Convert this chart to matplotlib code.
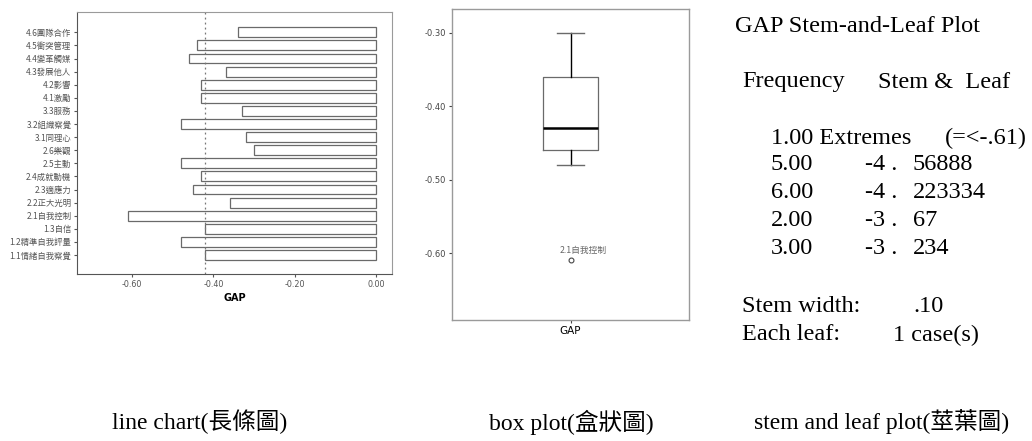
import matplotlib
matplotlib.use("Agg")
import numpy as np
import matplotlib.pyplot as plt
from matplotlib import cbook

W, H = 1032, 441

# items, bottom to top as drawn
labels = ['1.1情緒自我察覺', '1.2精準自我評量', '1.3自信', '2.1自我控制', '2.2正大光明',
          '2.3適應力', '2.4成就動機', '2.5主動', '2.6樂觀', '3.1同理心', '3.2組織察覺',
          '3.3服務', '4.1激勵', '4.2影響', '4.3發展他人', '4.4變革觸媒', '4.5衝突管理',
          '4.6團隊合作']
gap = [-0.42, -0.48, -0.42, -0.61, -0.36, -0.45, -0.43, -0.48, -0.30, -0.32, -0.48,
       -0.33, -0.43, -0.43, -0.37, -0.46, -0.44, -0.34]
gap_mean = -0.42
bar_ticks = [-0.60, -0.40, -0.20, 0.00]
box_ticks = [-0.30, -0.40, -0.50, -0.60]
outlier_label = '2.1自我控制'

# stem-and-leaf text
sl_title = 'GAP Stem-and-Leaf Plot'
sl_freq = ['5.00', '6.00', '2.00', '3.00']
sl_stem = ['-4 .', '-4 .', '-3 .', '-3 .']
sl_leaf = ['56888', '223334', '67', '234']
captions = ['line chart(長條圖)', 'box plot(盒狀圖)', 'stem and leaf plot(莖葉圖)']

cjk = ['Noto Sans CJK TC', 'DejaVu Sans']
serif = ['Liberation Serif', 'Noto Sans CJK TC']
frame_col = '#9a9a9a'


def px_axes(fig, left, top, right, bottom):
    return fig.add_axes([left / W, (H - bottom) / H, (right - left) / W, (bottom - top) / H])


fig = plt.figure(figsize=(W / 100, H / 100), dpi=100)

#%% bar chart
ax = px_axes(fig, 77, 12, 392, 274)
pos = list(range(len(gap)))
ax.barh(pos, gap, height=0.76, color='white', edgecolor='#6a6a6a', linewidth=0.9)
ax.axvline(gap_mean, color='#777777', linestyle=(0, (1.5, 2.5)), linewidth=0.9)
ax.set_xlim(-0.735, 0.039)
ax.set_ylim(-1.45, len(gap) - 1 + 1.55)
ax.set_yticks(pos)
ax.set_yticklabels(labels, family=cjk, fontsize=6, color='#555555')
ax.set_xticks(bar_ticks)
ax.set_xticklabels([f'{t:.2f}' for t in bar_ticks], fontsize=5.8, color='#555555')
ax.set_xlabel('GAP', fontsize=7, fontweight='bold', labelpad=3)
ax.tick_params(length=2.5, width=0.8, color='#555555', pad=1.5)
for s in ax.spines.values():
    s.set_color(frame_col)
ax.spines['left'].set_color('#555555')
ax.spines['bottom'].set_color('#555555')

#%% box plot (SPSS style hinges)
stats = cbook.boxplot_stats(np.array(gap), whis=1.5)[0]
stats['q1'] = np.percentile(gap, 25, method='nearest')
stats['q3'] = np.percentile(gap, 75, method='nearest')
bx = px_axes(fig, 452, 9, 689, 320)
bx.bxp([stats], positions=[1], widths=0.228,
       boxprops=dict(color='#6a6a6a', linewidth=0.9),
       medianprops=dict(color='black', linewidth=1.8),
       whiskerprops=dict(color='black', linewidth=1.0),
       capprops=dict(color='#6a6a6a', linewidth=1.0),
       flierprops=dict(marker='o', markersize=3.5, markerfacecolor='white',
                       markeredgecolor='#444444', markeredgewidth=0.8))
bx.text(0.955, min(gap) + 0.014, outlier_label, family=cjk, fontsize=6.3, color='#666666',
        ha='left', va='center')
bx.set_xlim(0.5, 1.5)
bx.set_ylim(-0.691, -0.2677)
bx.set_yticks(box_ticks)
bx.set_yticklabels([f'{t:.2f}' for t in box_ticks], fontsize=6, color='#444444')
bx.set_xticks([1])
bx.set_xticklabels(['GAP'], fontsize=7.5)
bx.tick_params(length=2.5, width=0.8, color='#444444', pad=1.5)
for s in bx.spines.values():
    s.set_color(frame_col)
    s.set_linewidth(1.0)

#%% stem-and-leaf text
def ftext(x, y, s, **kw):
    fig.text(x / W, 1 - y / H, s, family=serif, fontsize=17.5, va='center', ha='left', **kw)

ftext(735, 27, sl_title)
ftext(742, 82, 'Frequency')
ftext(878, 82, 'Stem &  Leaf')
ftext(771, 138, '1.00 Extremes')
ftext(945, 138, '(=<-.61)')
y = 165
for f, st, lf in zip(sl_freq, sl_stem, sl_leaf):
    ftext(771, y, f)
    ftext(865, y, st)
    ftext(913, y, lf)
    y += 28
ftext(742, 307, 'Stem width:')
ftext(913, 307, '.10')
ftext(742, 335, 'Each leaf:')
ftext(893, 335, '1 case(s)')

#%% captions
for cx, cap in zip([200, 571, 882], captions):
    fig.text(cx / W, 1 - 422 / H, cap, family=serif, fontsize=17, ha='center', va='center')

fig.savefig('out.png', dpi=100)
